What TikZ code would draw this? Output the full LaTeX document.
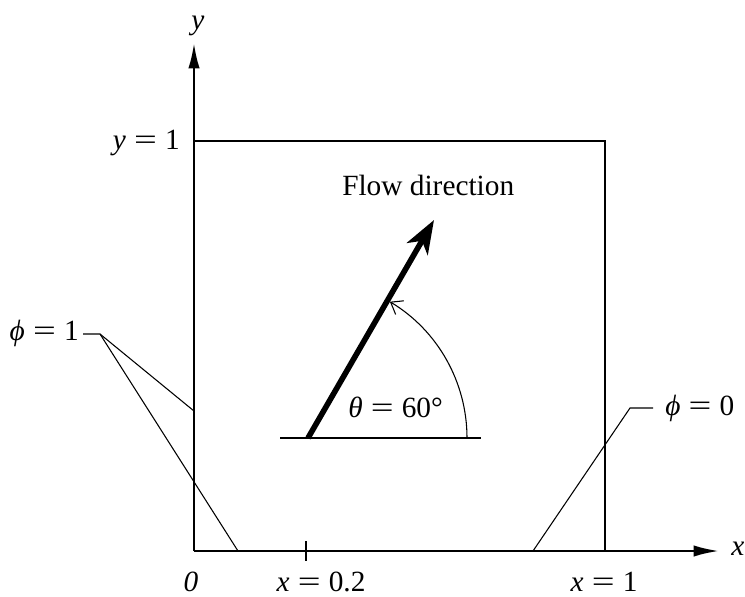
\documentclass[tikz,border=0pt]{standalone}
\usepackage{fontspec}
\usepackage{graphicx}
\setmainfont{Liberation Serif}
\usetikzlibrary{arrows.meta}
\newcommand{\eqsign}{\hspace{0.278em}\scalebox{1.38}[1]{=}\hspace{0.278em}}
\begin{document}
\begin{tikzpicture}[x=0.75pt,y=-0.75pt,
  lbl/.style={inner sep=0pt,font=\fontsize{22}{26}\selectfont},
  axis/.style={line width=1.8pt},
  frame/.style={line width=1.2pt},
  leader/.style={line width=0.8pt}]
\useasboundingbox (0,0) rectangle (745,596);
% axes
\coordinate (O) at (194,551);
\coordinate (ytip) at (194,43);
\coordinate (xtip) at (719,551);
\draw[axis,-{Latex[length=19pt,width=8.5pt]}] (O) -- (ytip);
\draw[axis,-{Latex[length=19pt,width=8.5pt]}] (O) -- (xtip);
% box
\draw[frame] (194,141) -- (605,141) -- (605,551);
% tick
\draw[frame] (306,541) -- (306,561);
% labels
\node[lbl] (ylab) at (198,26) {\itshape y};
\node[lbl,anchor=west] (xlab) at (731,549) {\itshape x};
\node[lbl,anchor=east] (y1) at (180,143) {{\itshape y}\eqsign 1};
\node[lbl] (zero) at (191,582) {\itshape 0};
\node[lbl] (x02) at (321,582) {{\itshape x}\eqsign 0.2};
\node[lbl] (x1) at (604,582) {{\itshape x}\eqsign 1};
\node[lbl,anchor=base west] (flow) at (342,195) {Flow direction};
\node[lbl,anchor=west] (theta) at (348,407) {{\itshape θ}\eqsign 60°};
% phi = 1
\node[lbl,anchor=east] (phi1) at (79,333) {{\itshape ϕ}\eqsign 1};
\coordinate (p1) at (100,334);
\coordinate (p1a) at (194,411);
\coordinate (p1b) at (238,551);
\draw[leader] (83,334) -- (p1) -- (p1a);
\draw[leader] (p1) -- (p1b);
% phi = 0
\node[lbl,anchor=west] (phi0) at (665,408) {{\itshape ϕ}\eqsign 0};
\coordinate (p0) at (630,408);
\coordinate (p0b) at (533,551);
\draw[leader] (653,408) -- (p0) -- (p0b);
% flow arrow
\coordinate (A) at (308,438);
\coordinate (B) at (434,220);
\draw[frame] (280,438) -- (481,438);
\draw[line width=4.2pt,-{Stealth[length=25pt,width=18pt,inset=7pt]}] (A) -- (B);
% angle arc
\draw[leader,-{Straight Barb[length=8pt,width=12pt]}] (A) ++(159,0) arc[start angle=0,end angle=-59,radius=159];
\end{tikzpicture}
\end{document}
